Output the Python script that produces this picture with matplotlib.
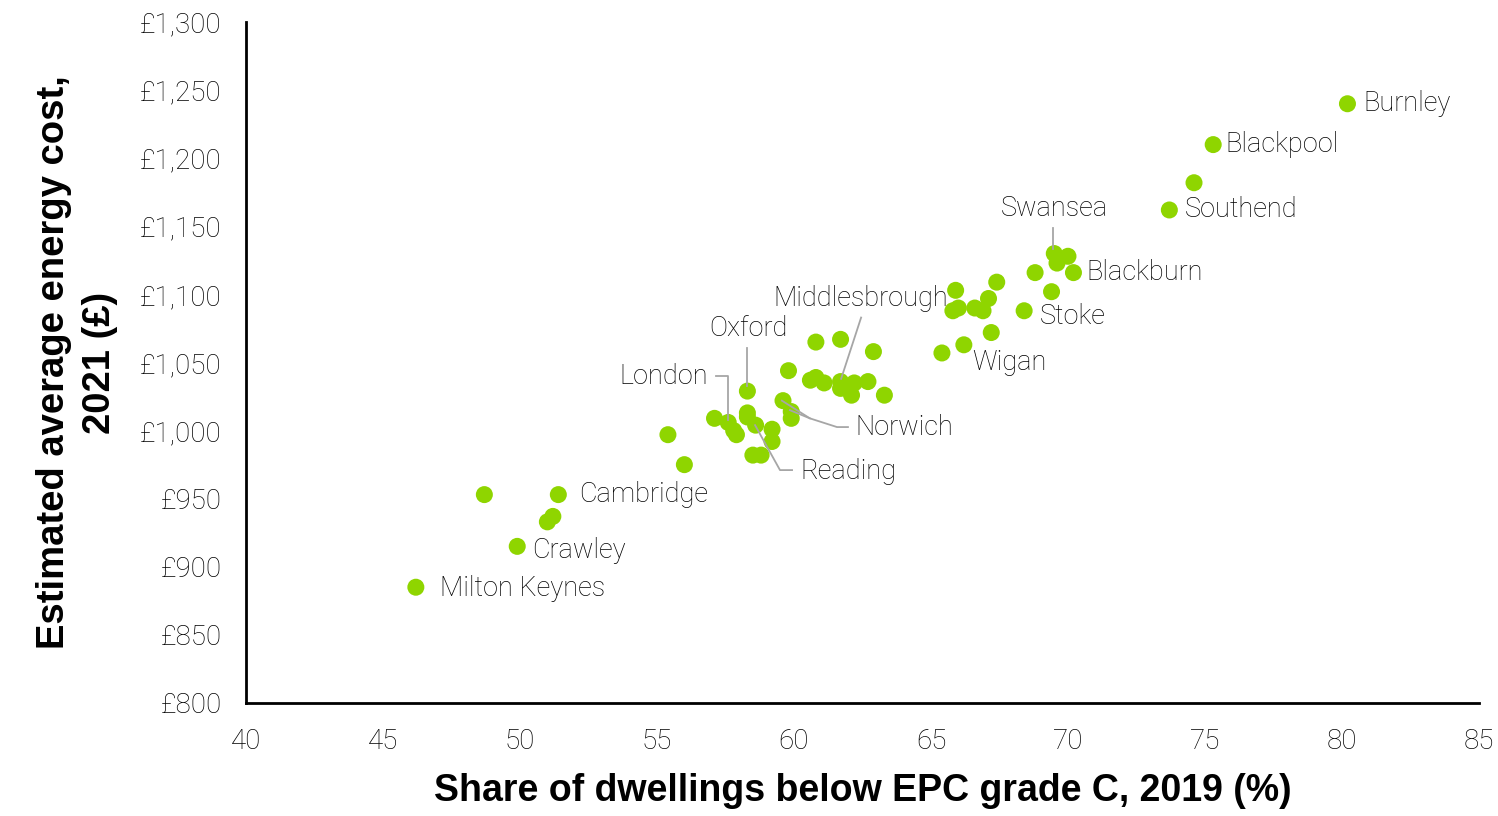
import matplotlib
matplotlib.use("Agg")
import matplotlib.pyplot as plt
from matplotlib.ticker import FuncFormatter

# share of dwellings below EPC grade C, 2019 (%)
epc_share = [
    80.2, 75.3, 74.6, 73.7, 69.5, 70.0, 69.6, 70.2, 68.8, 69.4,
    68.4, 67.4, 67.1, 66.9, 66.6, 65.9, 66.0, 65.8, 67.2, 66.2,
    65.4, 62.9, 61.7, 60.8, 59.8, 60.8, 60.6, 61.1, 61.7, 61.7,
    62.2, 62.1, 62.7, 63.3, 58.3, 59.6, 59.9, 59.9, 58.3, 58.3,
    58.6, 59.2, 59.2, 58.5, 58.8, 57.1, 57.6, 57.8, 57.9, 55.4,
    56.0, 51.4, 48.7, 51.2, 51.0, 49.9, 46.2,
]
# estimated average energy cost, 2021 (GBP)
energy_cost = [
    1240, 1210, 1182, 1162, 1130, 1128, 1123, 1116, 1116, 1102,
    1088, 1109, 1097, 1088, 1090, 1103, 1090, 1088, 1072, 1063,
    1057, 1058, 1067, 1065, 1044, 1039, 1037, 1035, 1036, 1031,
    1035, 1026, 1036, 1026, 1029, 1022, 1014, 1009, 1013, 1010,
    1004, 1001, 992, 982, 982, 1009, 1006, 1000, 997, 997,
    975, 953, 953, 937, 933, 915, 885,
]

# labels placed directly to the right of their point
side_labels = ["Burnley", "Blackpool", "Southend", "Blackburn", "Stoke",
               "Wigan", "Cambridge", "Crawley", "Milton Keynes"]
side_label_pos = [(80.77, 1240), (75.73, 1210), (74.27, 1162), (70.66, 1116),
                  (68.98, 1084), (66.5, 1050), (52.15, 953), (50.44, 912),
                  (47.08, 884)]

green = "#8fd500"
grey = "#a6a6a6"
font_light = ["Roboto", "DejaVu Sans"]

fig = plt.figure(figsize=(14.98, 8.16), dpi=100)
ax = fig.add_axes([0.1642, 0.1385, 0.8231, 0.8345])

ax.scatter(epc_share, energy_cost, s=150, color=green, edgecolors="none", zorder=3)

ax.set_xlim(40, 85)
ax.set_ylim(800, 1300)
ax.set_xticks(range(40, 86, 5))
ax.set_yticks(range(800, 1301, 50))
ax.yaxis.set_major_formatter(FuncFormatter(lambda v, p: "£{:,.0f}".format(v)))

for s in ["top", "right"]:
    ax.spines[s].set_visible(False)
for s in ["left", "bottom"]:
    ax.spines[s].set_linewidth(2)
    ax.spines[s].set_color("black")

ax.tick_params(axis="both", length=0, labelsize=20, labelcolor="black")
ax.tick_params(axis="y", pad=17.5)
ax.tick_params(axis="x", pad=18)
for lab in ax.get_xticklabels() + ax.get_yticklabels():
    lab.set_family(font_light)
    lab.set_fontweight("light")

ax.set_xlabel("Share of dwellings below EPC grade C, 2019 (%)",
              fontsize=27, fontweight="bold", family="Liberation Sans", labelpad=13)
ax.set_ylabel("Estimated average energy cost,\n2021 (£)",
              fontsize=27.5, fontweight="bold", family="Liberation Sans", labelpad=16,
              linespacing=1.35)

txt = dict(fontsize=19.5, family=font_light, fontweight="light", va="center", color="black")

for name, (x, y) in zip(side_labels, side_label_pos):
    ax.text(x, y, name, ha="left", **txt)

# leader-line labels
ax.text(69.49, 1163, "Swansea", ha="center", **txt)
ax.plot([69.45, 69.45], [1149, 1133], color=grey, lw=1.3, zorder=4)

ax.text(62.45, 1097, "Middlesbrough", ha="center", **txt)
ax.plot([62.45, 61.72], [1083, 1038], color=grey, lw=1.3, zorder=4)

ax.text(58.32, 1075, "Oxford", ha="center", **txt)
ax.plot([58.28, 58.28], [1061, 1033], color=grey, lw=1.3, zorder=4)

ax.text(56.86, 1040, "London", ha="right", **txt)
ax.plot([57.15, 57.59, 57.59], [1040, 1040, 1008], color=grey, lw=1.3, zorder=4)

ax.text(62.23, 1002, "Norwich", ha="left", **txt)
ax.plot([59.56, 60.58, 61.57, 61.97], [1022, 1009, 1002.6, 1002.6], color=grey, lw=1.3, zorder=4)
ax.plot([59.85, 60.58], [1015, 1009], color=grey, lw=1.3, zorder=4)

ax.text(60.22, 970, "Reading", ha="left", **txt)
ax.plot([58.58, 59.49, 59.93], [1004, 971, 971], color=grey, lw=1.3, zorder=4)

fig.savefig("out.png", dpi=100)
